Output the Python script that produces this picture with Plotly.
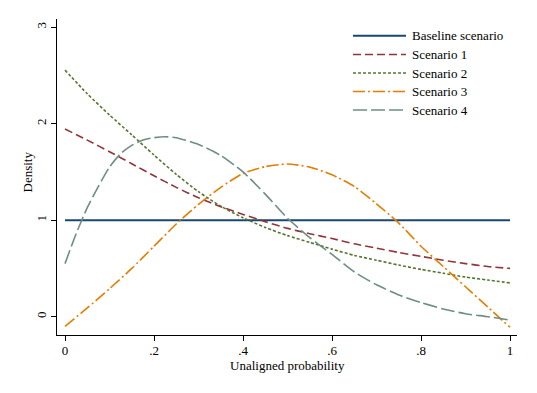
import plotly.graph_objects as go

# ---- data ----
x_grid = [0.0, 0.05, 0.1, 0.15, 0.2, 0.25, 0.3, 0.35, 0.4, 0.45, 0.5,
          0.55, 0.6, 0.65, 0.7, 0.75, 0.8, 0.85, 0.9, 0.95, 1.0]
baseline = [1.0] * len(x_grid)
scenario1 = [1.945, 1.83, 1.71, 1.585, 1.46, 1.34, 1.232, 1.14, 1.06, 0.985, 0.915,
             0.86, 0.81, 0.755, 0.71, 0.665, 0.625, 0.585, 0.55, 0.52, 0.50]
scenario2 = [2.555, 2.31, 2.09, 1.885, 1.675, 1.475, 1.295, 1.145, 1.025, 0.925, 0.84,
             0.77, 0.70, 0.635, 0.585, 0.535, 0.49, 0.45, 0.41, 0.38, 0.35]
scenario3 = [-0.10, 0.09, 0.29, 0.50, 0.73, 0.96, 1.165, 1.34, 1.485, 1.555, 1.582,
             1.55, 1.47, 1.35, 1.17, 0.97, 0.73, 0.52, 0.31, 0.10, -0.11]
x_s4 = [0.0, 0.025, 0.05, 0.075, 0.1, 0.125, 0.15, 0.175, 0.2, 0.225, 0.25, 0.3, 0.35, 0.4,
        0.45, 0.5, 0.55, 0.6, 0.65, 0.7, 0.75, 0.8, 0.85, 0.9, 0.95, 1.0]
scenario4 = [0.55, 0.86, 1.13, 1.35, 1.55, 1.69, 1.775, 1.83, 1.855, 1.865, 1.855, 1.785, 1.67, 1.50,
             1.27, 1.02, 0.82, 0.645, 0.465, 0.33, 0.225, 0.145, 0.08, 0.03, 0.0, -0.035]

series_names = ["Baseline scenario", "Scenario 1", "Scenario 2", "Scenario 3", "Scenario 4"]
x_ticks = [0, 0.2, 0.4, 0.6, 0.8, 1]
x_tick_text = ["0", ".2", ".4", ".6", ".8", "1"]
y_ticks = [0, 1, 2, 3]
y_tick_text = ["0", "1", "2", "3"]
x_title = "Unaligned probability"
y_title = "Density"

# ---- styles ----
colors = ["#1a476f", "#90353b", "#55752f", "#e37e00", "#6e8e84"]
dashes = ["solid", "8px,4px", "3px,2px", "12px,3px,2px,3px", "14px,4px"]
widths = [2, 1.6, 1.6, 1.6, 1.6]
FONT = "Liberation Serif, Times New Roman, serif"
FS = 13

xs = [x_grid, x_grid, x_grid, x_grid, x_s4]
ys = [baseline, scenario1, scenario2, scenario3, scenario4]

fig = go.Figure()
for name, x, y, c, d, w in zip(series_names, xs, ys, colors, dashes, widths):
    fig.add_trace(go.Scatter(x=x, y=y, mode="lines", name=name,
                             line=dict(color=c, dash=d, width=w, shape="spline", smoothing=0.6),
                             showlegend=False))

# ---- geometry: page has an 8px body margin, so the figure sits at (8, 8) ----
OFF = 8
W, H = 537 - OFF, 393 - OFF
# plot area in page pixels: x 57..517, y 19..335
ML, MT = 57 - OFF, 19 - OFF
MR, MB = W - (517 - OFF), H - (335 - OFF)
pw, ph = W - ML - MR, H - MT - MB

def px2paper(px, py):
    """page pixel -> paper coords"""
    return (px - OFF - ML) / pw, (H - MB - (py - OFF)) / ph

# ---- manual legend (Stata style, long line samples) ----
row_y = [35.7, 54.5, 73.0, 91.5, 110.0]
for name, c, d, w, ry in zip(series_names, colors, dashes, widths, row_y):
    x0, yy = px2paper(353, ry)
    x1, _ = px2paper(406, ry)
    fig.add_shape(type="line", xref="paper", yref="paper", x0=x0, x1=x1, y0=yy, y1=yy,
                  line=dict(color=c, dash=d, width=w))
    tx, _ = px2paper(410, ry)
    fig.add_annotation(xref="paper", yref="paper", x=tx, y=yy, text=name, showarrow=False,
                       xanchor="left", yanchor="middle", font=dict(family=FONT, size=FS, color="black"))

# ---- axis titles ----
ax, ay = px2paper(287, 365)
fig.add_annotation(xref="paper", yref="paper", x=ax, y=ay, text=x_title, showarrow=False,
                   xanchor="center", yanchor="middle", font=dict(family=FONT, size=FS, color="black"))
bx, by = px2paper(27, 172.5)
fig.add_annotation(xref="paper", yref="paper", x=bx, y=by, text=y_title, showarrow=False,
                   textangle=-90, xanchor="center", yanchor="middle",
                   font=dict(family=FONT, size=FS, color="black"))

fig.update_layout(
    width=W, height=H,
    margin=dict(l=ML, r=MR, t=MT, b=MB, pad=0),
    paper_bgcolor="white", plot_bgcolor="white",
    font=dict(family=FONT, size=FS, color="black"),
    showlegend=False,
    xaxis=dict(range=[-0.018, 1.0157], tickvals=x_ticks, ticktext=x_tick_text,
               showline=True, linecolor="black", linewidth=1.2,
               ticks="outside", ticklen=5, tickcolor="black", tickwidth=1,
               ticklabelstandoff=-2,
               showgrid=False, zeroline=False, automargin=False),
    yaxis=dict(range=[-0.19, 3.085], tickvals=y_ticks, ticktext=y_tick_text, tickangle=-90,
               showline=True, linecolor="black", linewidth=1.2,
               ticks="outside", ticklen=5, tickcolor="black", tickwidth=1,
               showgrid=False, zeroline=False, automargin=False),
)

fig.write_html("out.html")
